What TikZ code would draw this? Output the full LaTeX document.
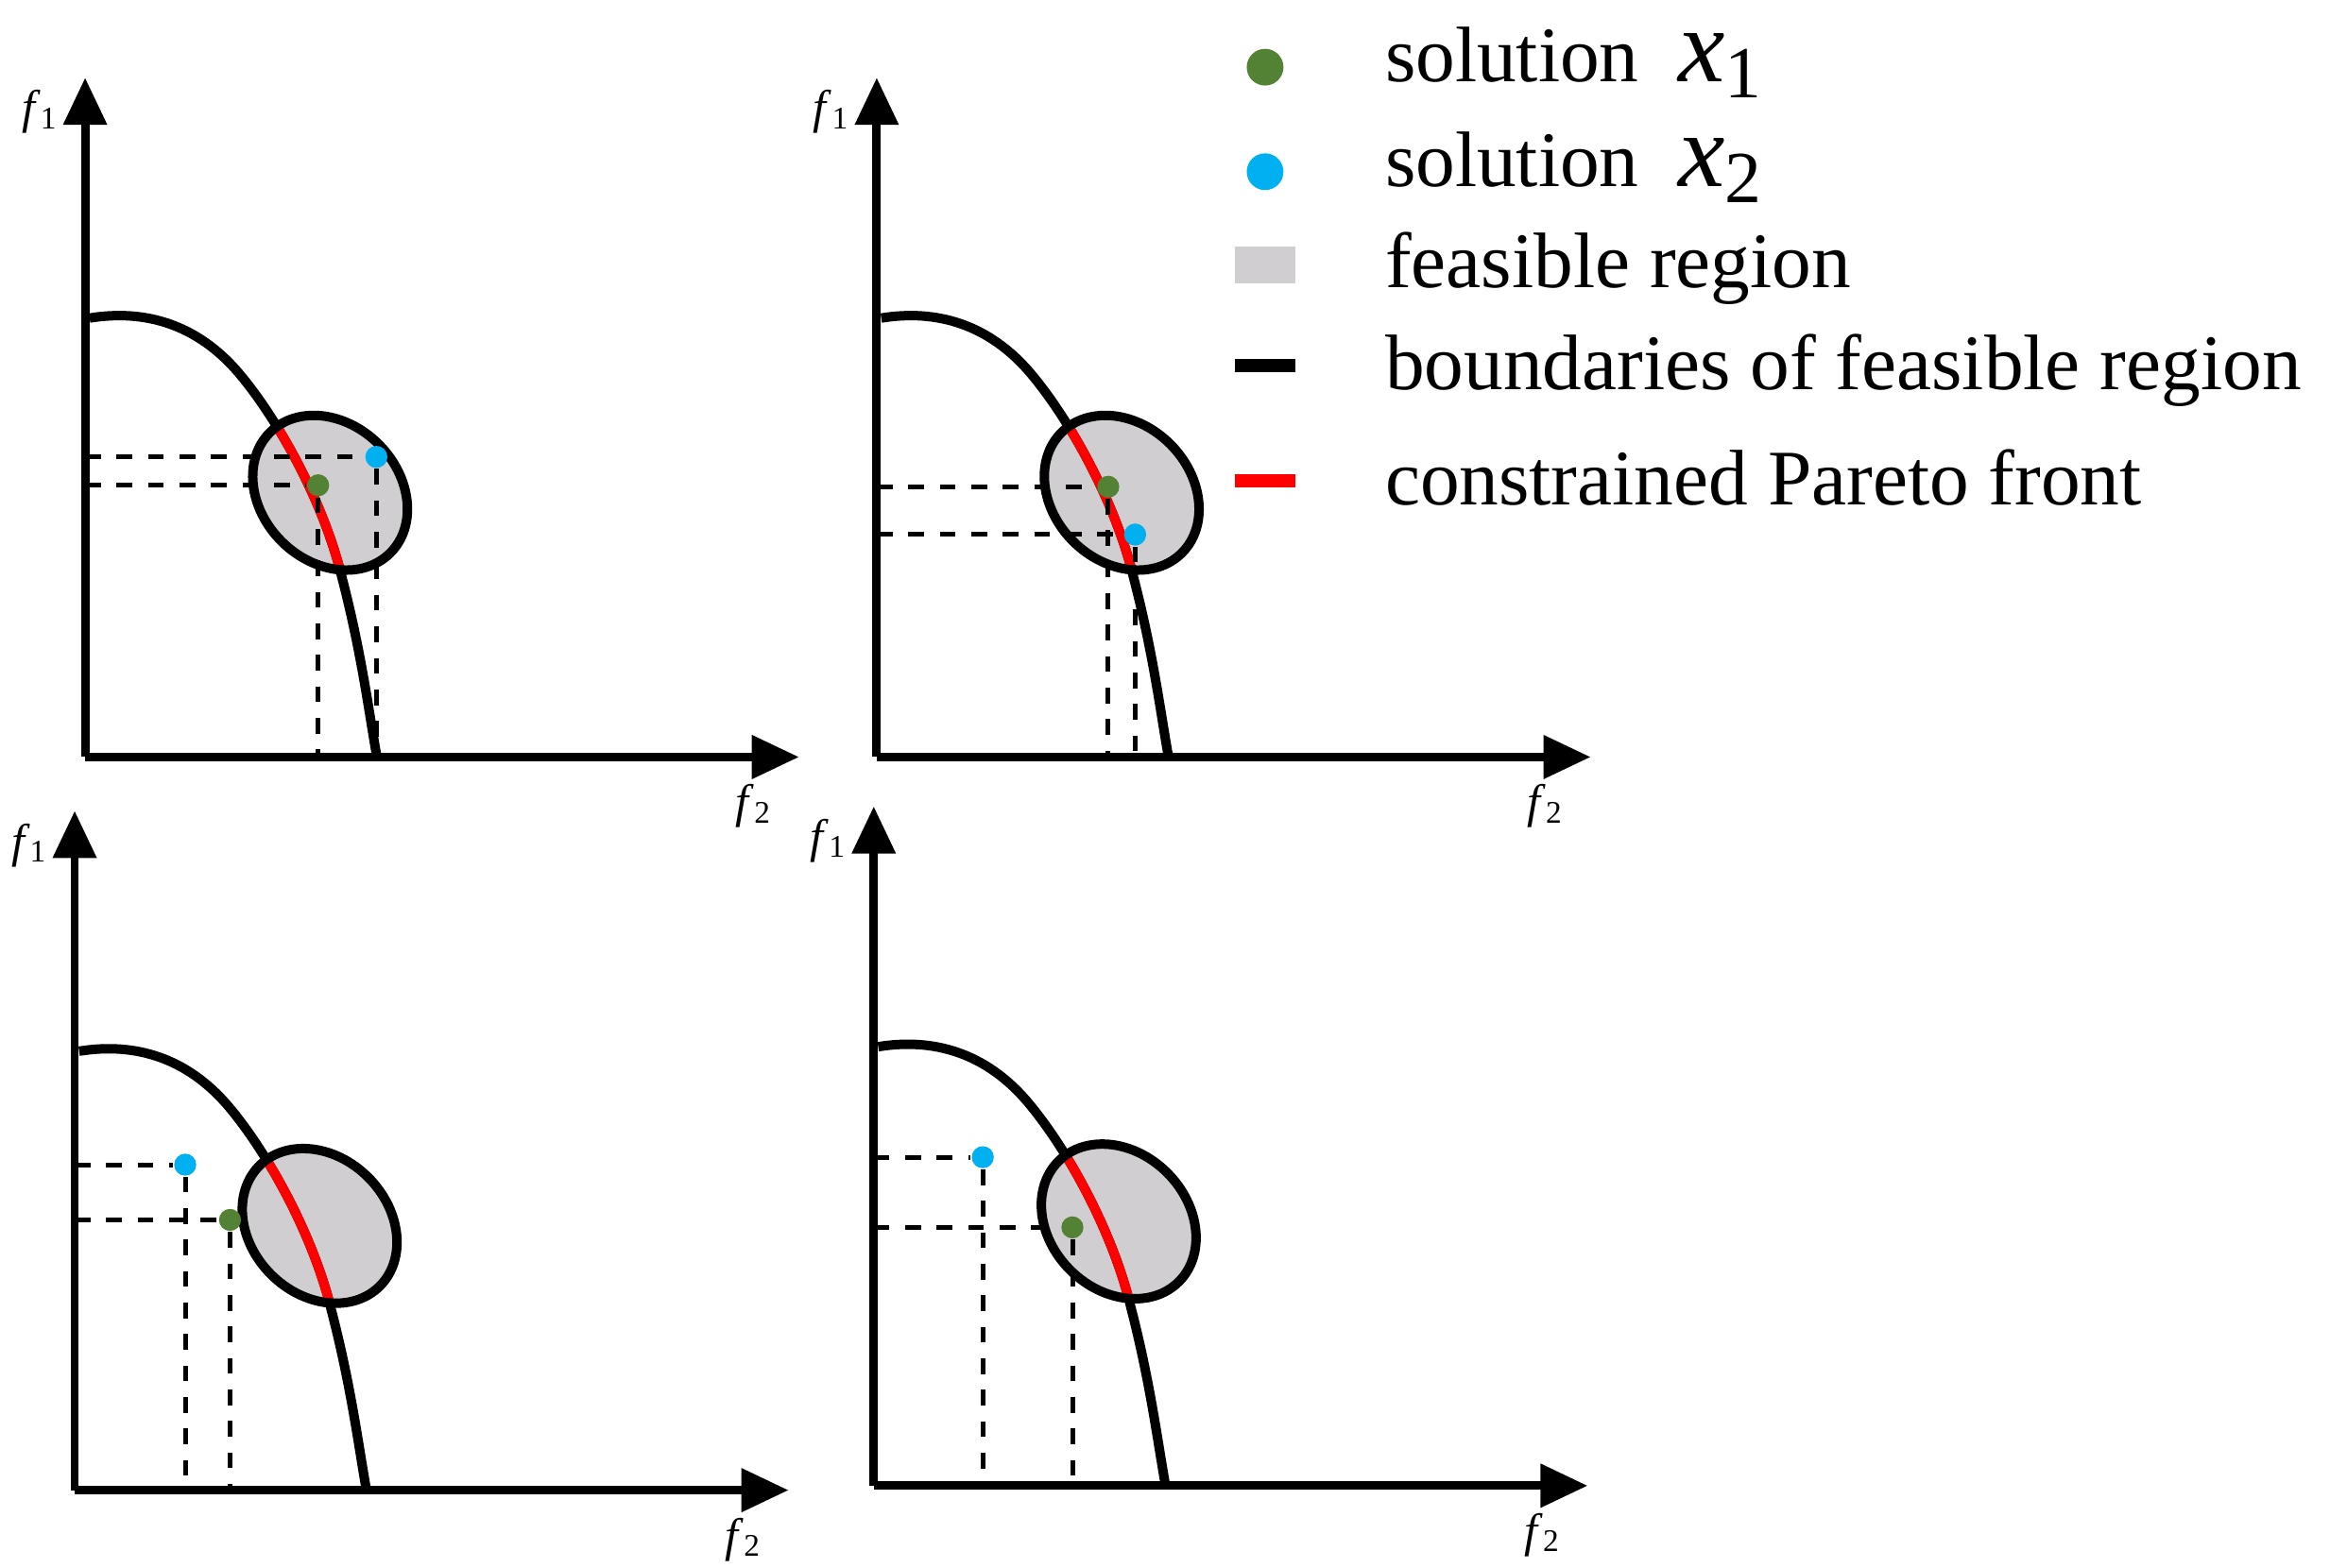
\documentclass[tikz,border=0pt]{standalone}
\usepackage{fontspec}
\setmainfont{Liberation Serif}
\definecolor{solgreen}{RGB}{84,130,53}
\definecolor{solblue}{RGB}{0,176,240}
\definecolor{regiongray}{RGB}{208,206,208}
\tikzset{
  axis/.style={line width=1.6pt, -{Triangle[length=9pt,width=8pt]}},
  bound/.style={line width=1.8pt},
  front/.style={line width=1.8pt, color=red},
  proj/.style={dashed, line width=0.9pt},
  dot/.style={circle, inner sep=0pt, minimum size=4.2pt},
  legtext/.style={anchor=west, font=\fontsize{15}{18}\selectfont},
}
\usetikzlibrary{arrows.meta}
\newcommand{\frontcurve}{(3,294) .. controls (40,300) and (75,290) .. (103,257) .. controls (130,225) and (160,170) .. (172,120) .. controls (185,70) and (190,30) .. (195,2)}
\newcommand{\region}{(164,177) ellipse [x radius=57, y radius=46, rotate=-45]}
\newcommand{\axes}{%
  \coordinate (O) at (0,0);
  \coordinate (Y) at (0,455);
  \coordinate (X) at (478,0);
  \draw[axis] (O) -- (Y);
  \draw[axis] (O) -- (X);
  \node[font=\fontsize{9}{10}\selectfont] at (-30,432) {\textit{f}\textsubscript{1}};
  \node[font=\fontsize{9}{10}\selectfont] at (448,-33) {\textit{f}\textsubscript{2}};
  \fill[regiongray] \region;
  \draw[bound] \frontcurve;
  \begin{scope}\clip \region; \draw[front] \frontcurve; \end{scope}
  \draw[bound] \region;
}
\begin{document}
\begin{tikzpicture}[x=0.1mm,y=0.1mm]
\useasboundingbox (0,0) rectangle (1560,-1050);

% PANELS %%%%%%%%%%%%%%%%%%%%%%%%%%%%%%%%%%%%%%%%%%%%%%%%%%%%%%%%%%%%%%%%%%

\begin{scope}[shift={(57,-507)}]
\axes
\node[dot, fill=solgreen] (A1) at (156,182) {};
\node[dot, fill=solblue] (B1) at (195,201) {};
\draw[proj] (0,182) -- (A1) -- (156,0);
\draw[proj] (0,201) -- (B1) -- (195,0);
\end{scope}

\begin{scope}[shift={(587,-507)}]
\axes
\node[dot, fill=solgreen] (A2) at (155,181) {};
\node[dot, fill=solblue] (B2) at (173,149) {};
\draw[proj] (0,181) -- (A2) -- (155,0);
\draw[proj] (0,149) -- (B2) -- (173,0);
\end{scope}

\begin{scope}[shift={(50,-998)}]
\axes
\node[dot, fill=solgreen] (A3) at (104,181) {};
\node[dot, fill=solblue] (B3) at (74,218) {};
\draw[proj] (0,181) -- (A3) -- (104,0);
\draw[proj] (0,218) -- (B3) -- (74,0);
\end{scope}

\begin{scope}[shift={(585,-995)}]
\axes
\node[dot, fill=solgreen] (A4) at (133,173) {};
\node[dot, fill=solblue] (B4) at (73,220) {};
\draw[proj] (0,173) -- (A4) -- (133,0);
\draw[proj] (0,220) -- (B4) -- (73,0);
\end{scope}

% LEGEND %%%%%%%%%%%%%%%%%%%%%%%%%%%%%%%%%%%%%%%%%%%%%%%%%%%%%%%%%%%%%%%%%%

\node[dot, minimum size=7pt, fill=solgreen] (LA) at (847,-45) {};
\node[dot, minimum size=7pt, fill=solblue] (LB) at (847,-115) {};
\fill[regiongray] (827,-165) rectangle (867,-190);
\draw[line width=2.5pt] (827,-245) -- (867,-245);
\draw[line width=2.5pt, red] (827,-322) -- (867,-322);

\node[legtext] at (915,-42) {solution \ {\fontsize{20}{20}\selectfont\textit{x}\textsubscript{1}}};
\node[legtext] at (915,-112) {solution \ {\fontsize{20}{20}\selectfont\textit{x}\textsubscript{2}}};
\node[legtext] at (915,-180) {feasible region};
\node[legtext] at (915,-248) {boundaries of feasible region};
\node[legtext] at (915,-320) {constrained Pareto front};

\end{tikzpicture}
\end{document}
